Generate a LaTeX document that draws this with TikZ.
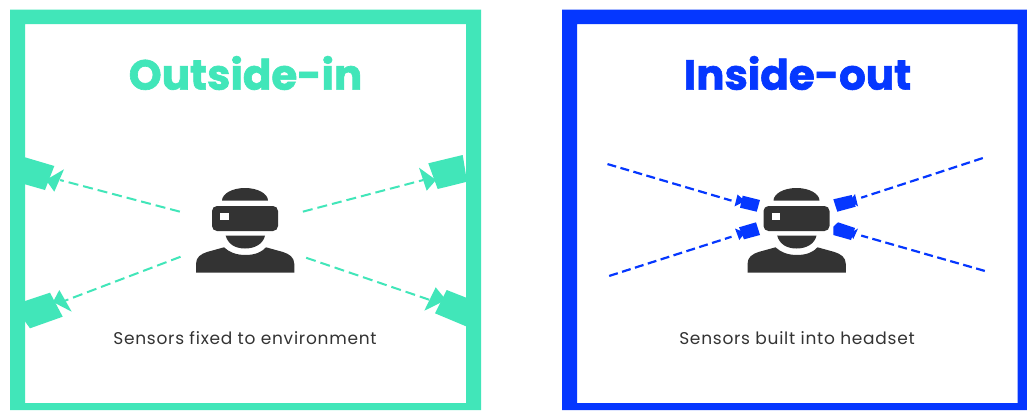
\documentclass[tikz,border=0pt]{standalone}
\usepackage{fontspec}
\setmainfont{Poppins}
\newfontfamily\capfont[LetterSpace=4.4]{Poppins}
\newfontfamily\titlefont[BoldFeatures={FakeBold=1.5}]{Poppins}
\definecolor{teal}{HTML}{41E6B9}
\definecolor{vivid}{HTML}{0537FF}
\definecolor{ink}{HTML}{333333}
\tikzset{
  frameteal/.style={fill=teal,even odd rule},
  frameblue/.style={fill=vivid,even odd rule},
  dashteal/.style={draw=teal,line width=2pt,dash pattern=on 10pt off 5pt},
  dashblue/.style={draw=vivid,line width=2.2pt,dash pattern=on 9pt off 4.5pt},
  title/.style={font=\titlefont\bfseries\fontsize{42}{42}\selectfont,anchor=center,inner sep=0pt},
  caption/.style={font=\capfont\fontsize{17}{20}\selectfont,text=ink,anchor=center,inner sep=0pt},
  anchorpt/.style={inner sep=0pt,minimum size=0pt}
}
\newcommand{\vrperson}[1]{%
\begin{scope}[xshift=#1]
  \fill[ink] (222,200.7) arc[start angle=180,end angle=360,x radius=23,y radius=12.7] -- cycle;
  \fill[ink,rounded corners=5pt] (212,206) rectangle (278,231);
  \fill[white] (220.3,213.3) rectangle (228.7,220);
  \fill[ink] (225.7,235.7) -- (265,235.7) .. controls (263,244) and (255,248.5) .. (245,248.5) .. controls (235,248.5) and (228,244) .. (225.7,235.7) -- cycle;
  \fill[ink] (196,272.7) -- (196,264) .. controls (196,257) and (201,254) .. (207,252) -- (224,247.3)
    .. controls (229,252) and (236,255) .. (245.5,255) .. controls (255,255) and (262,252) .. (266,247.3)
    -- (283,252) .. controls (289,254) and (294.3,257) .. (294.3,264) -- (294.3,272.7) -- cycle;
\end{scope}}
\begin{document}
\begin{tikzpicture}[x=1pt,y=-1pt]
\useasboundingbox (0,0) rectangle (1027,410);
\fill[white] (0,0) rectangle (1027,410);
% frames
\path[frameteal] (10,9.5) rectangle (481,410) (25,24) rectangle (466,403);
\path[frameblue] (562,9.5) rectangle (1027,410) (577,24) rectangle (1017.5,403);
% titles and captions
\node[title,text=teal] (titleL) at (245.5,73) {Outside-in};
\node[title,text=vivid] (titleR) at (797.5,73) {Inside-out};
\node[caption] (capL) at (245,338) {Sensors fixed to environment};
\node[caption] (capR) at (797,338) {Sensors built into headset};
% people
\vrperson{0pt}
\vrperson{551.5pt}
% teal cameras
\fill[teal] (24,157) -- (54.3,166) -- (45,190) -- (24,184) -- cycle;
\fill[teal] (64,169.3) -- (46,180) -- (54.3,191.7) -- cycle;
\fill[teal] (24,301.4) -- (50,292.7) -- (62.7,316.7) -- (30,328.3) -- (24,320) -- cycle;
\fill[teal] (59.3,290) -- (53,302) -- (71.7,311.7) -- cycle;
\fill[teal] (428.3,163.3) -- (462.7,155) -- (467,181.7) -- (437.7,189) -- cycle;
\fill[teal] (419,167.7) -- (436,180) -- (426.7,190.7) -- cycle;
\fill[teal] (446.7,290) -- (467,298) -- (467,326.7) -- (435,313.3) -- cycle;
\fill[teal] (435.7,287.3) -- (446,300) -- (424.3,310.7) -- cycle;
% blue cameras
\fill[vivid] (742.7,195.7) -- (760,200) -- (756.7,211.7) -- (740,207.7) -- cycle;
\fill[vivid] (737.5,194.5) -- (745,201) -- (734.5,206.5) -- cycle;
\fill[vivid] (739,227.3) -- (756,222.3) -- (760,235) -- (744,239.3) -- cycle;
\fill[vivid] (735,228.5) -- (745,232.7) -- (739.3,240) -- cycle;
\fill[vivid] (833.3,199.3) -- (851.7,195) -- (855.7,206.7) -- (837.3,211.7) -- cycle;
\fill[vivid] (855,194) -- (850,200.7) -- (858,206.5) -- cycle;
\fill[vivid] (838,222.3) -- (855,228) -- (851,240) -- (833.3,235) -- (833.3,226.7) -- cycle;
\fill[vivid] (858,228.5) -- (850,233.3) -- (853.3,239) -- cycle;
% connector ends
\node[anchorpt] (a1) at (180,211.7) {};
\node[anchorpt] (a2) at (60,180) {};
\node[anchorpt] (b1) at (180.7,256.7) {};
\node[anchorpt] (b2) at (65,300.7) {};
\node[anchorpt] (c1) at (302.7,211.7) {};
\node[anchorpt] (c2) at (423.3,180) {};
\node[anchorpt] (d1) at (306,257.7) {};
\node[anchorpt] (d2) at (430,300) {};
\node[anchorpt] (e1) at (607.3,164) {};
\node[anchorpt] (e2) at (731.7,200.7) {};
\node[anchorpt] (f1) at (609,276) {};
\node[anchorpt] (f2) at (731.7,236.7) {};
\node[anchorpt] (g1) at (983,158) {};
\node[anchorpt] (g2) at (861,197.8) {};
\node[anchorpt] (h1) at (985,271) {};
\node[anchorpt] (h2) at (861,235.5) {};
\draw[dashteal] (a1) -- (a2);
\draw[dashteal] (b1) -- (b2);
\draw[dashteal] (c1) -- (c2);
\draw[dashteal] (d1) -- (d2);
\draw[dashblue] (e1) -- (e2);
\draw[dashblue] (f1) -- (f2);
\draw[dashblue] (g1) -- (g2);
\draw[dashblue] (h1) -- (h2);
\end{tikzpicture}
\end{document}
